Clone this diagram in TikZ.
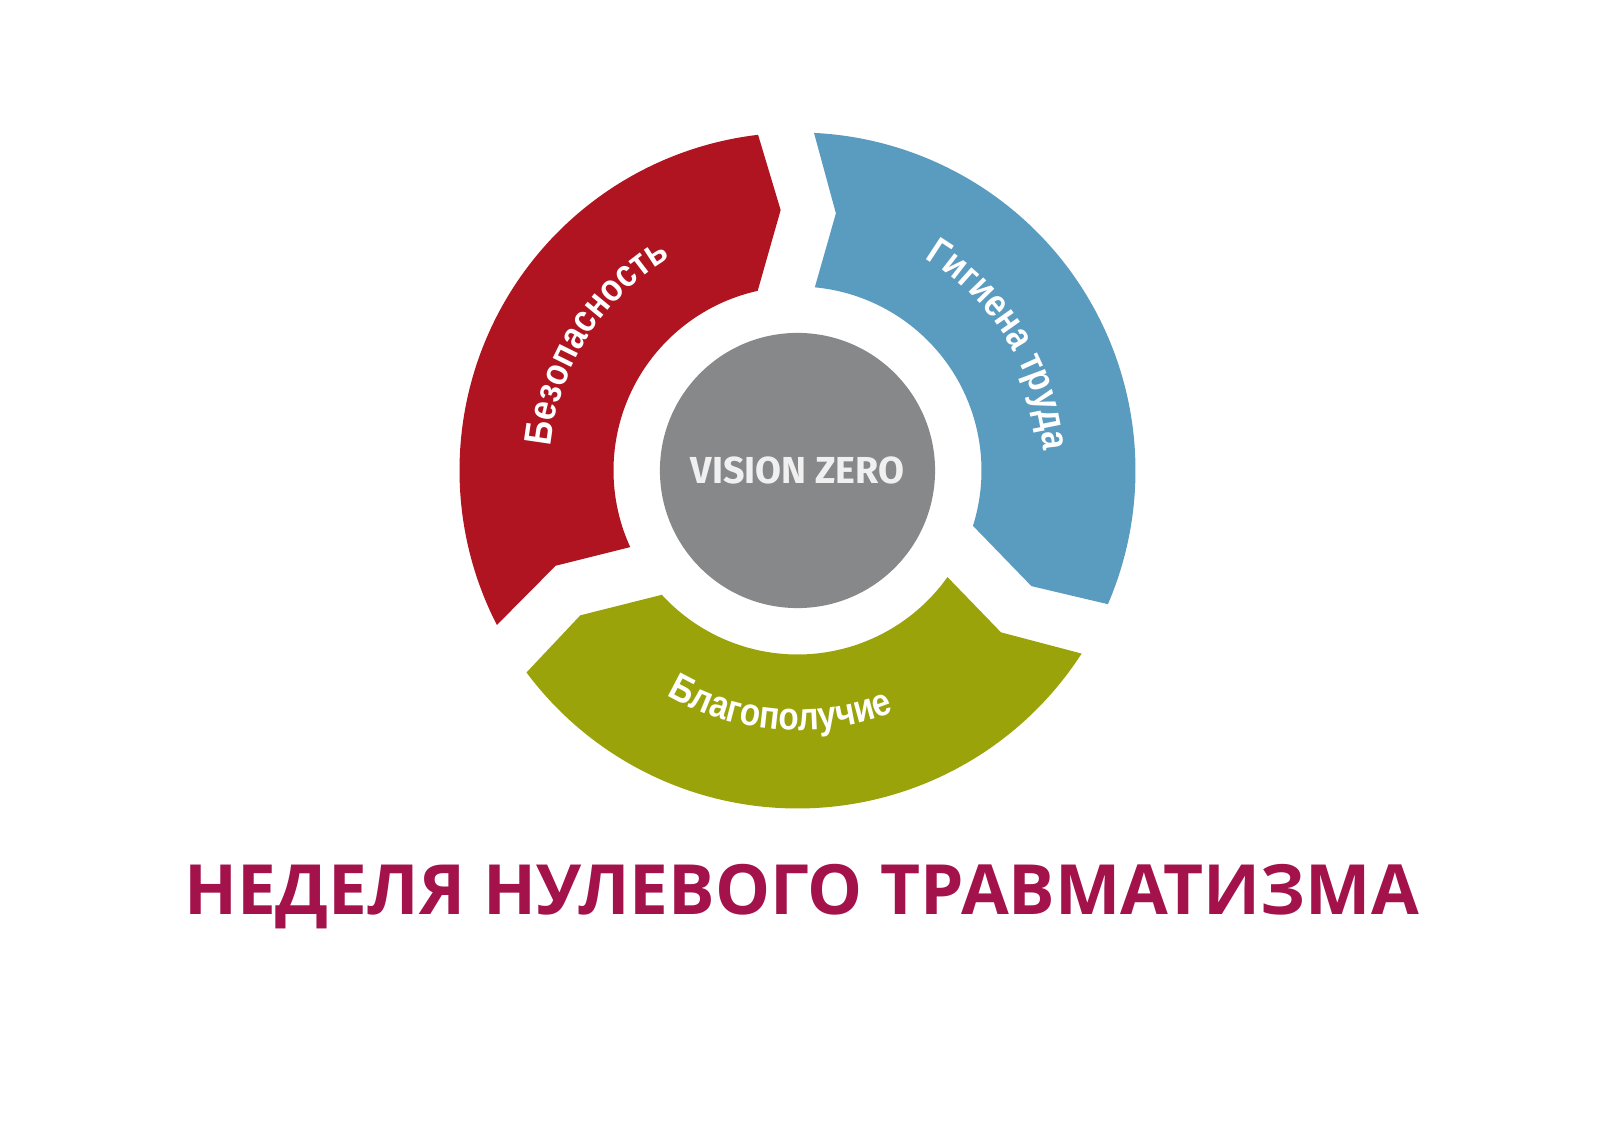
\documentclass[tikz,border=0pt]{standalone}
\usepackage{fontspec}
\setmainfont{Open Sans}
\newfontfamily\arcfont{Liberation Sans}[FakeStretch=0.86]
\newfontfamily\vzfont{Fira Sans}
\usetikzlibrary{decorations.text}
\definecolor{segred}{HTML}{AF1420}
\definecolor{segblue}{HTML}{5A9BC0}
\definecolor{seggreen}{HTML}{9BA30A}
\definecolor{vzgray}{HTML}{87888A}
\definecolor{vztext}{HTML}{F0F0F0}
\definecolor{titlered}{HTML}{A3124A}
\tikzset{
  seglabel/.style={decorate, decoration={text along path, text align=center, text color=white, text={|\arcfont\bfseries|#1}}}
}
\begin{document}
\begin{tikzpicture}[x=0.01cm,y=0.01cm]
        \useasboundingbox (-797.5,-660.5) rectangle (802.5,470.5);
        \fill[white] (-797.5,-660.5) rectangle (802.5,470.5);
        \fill[segred] (207.2:338) arc[start angle=207.2, end angle=96.7, radius=338] -- (93.7:261) -- (102.5:184) arc[start angle=102.5, end angle=204.6, radius=184] -- (201.5:260) -- cycle;
        \fill[segblue, rotate=-120] (207.2:338) arc[start angle=207.2, end angle=96.7, radius=338] -- (93.7:261) -- (102.5:184) arc[start angle=102.5, end angle=204.6, radius=184] -- (201.5:260) -- cycle;
        \fill[seggreen, rotate=120] (207.2:338) arc[start angle=207.2, end angle=96.7, radius=338] -- (93.7:261) -- (102.5:184) arc[start angle=102.5, end angle=204.6, radius=184] -- (201.5:260) -- cycle;
        \begin{scope}
        \fontsize{11}{13}\selectfont
        \path[seglabel=Безопасность] (180:248) arc[start angle=180, end angle=115.2, radius=248];
        \path[seglabel=Гигиена труда] (63.75:247) arc[start angle=63.75, end angle=-0.25, radius=247];
        \path[seglabel=Благополучие] (234:260) arc[start angle=234, end angle=297.6, radius=260];
        \end{scope}
        \node[circle, fill=vzgray, minimum size=2.75cm, inner sep=0pt, text=vztext, font=\vzfont\bfseries\fontsize{10.7}{12}\selectfont] (vz) at (0,0) {VISION ZERO};
        \node[anchor=base, text=titlered, font=\bfseries\fontsize{19.7}{24}\selectfont] (title) at (4,-444.5) {НЕДЕЛЯ НУЛЕВОГО ТРАВМАТИЗМА};
    \end{tikzpicture}
\end{document}
